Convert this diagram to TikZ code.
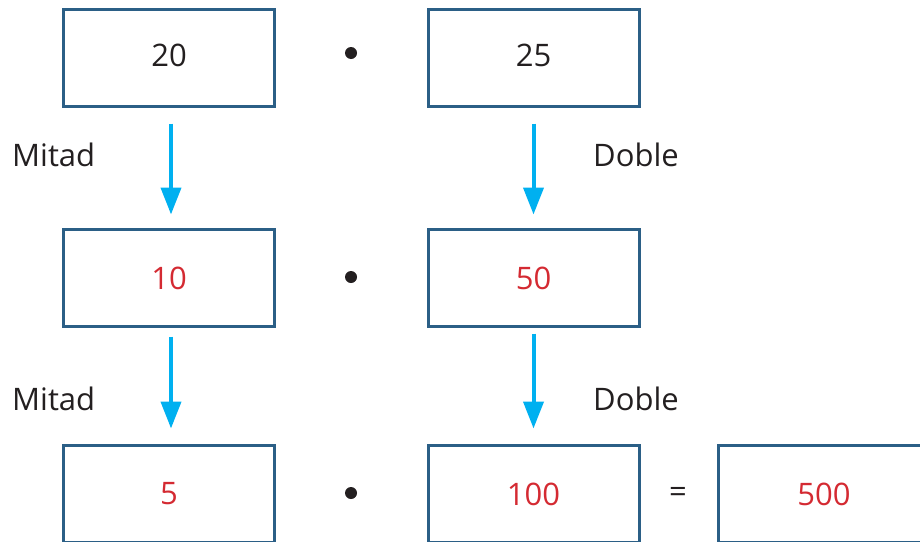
\documentclass[tikz,border=0pt]{standalone}
\usepackage{fontspec}
\setmainfont{Open Sans}
\usetikzlibrary{arrows.meta}
\definecolor{boxblue}{HTML}{2B5F86}
\definecolor{numred}{HTML}{D42A32}
\definecolor{arrcyan}{HTML}{00B0F0}
\definecolor{txt}{HTML}{231F20}
\begin{document}
\begin{tikzpicture}[x=1pt,y=-1pt,
  numbox/.style={draw=boxblue,line width=3pt,minimum width=211pt,minimum height=97pt,inner sep=0pt,font=\fontsize{31}{36}\selectfont,text=txt},
  rednum/.style={text=numred},
  lbl/.style={anchor=west,inner sep=0pt,font=\fontsize{31}{36}\selectfont,text=txt},
  dotmark/.style={circle,fill=txt,inner sep=0pt,minimum size=12pt},
  arr/.style={draw=arrcyan,line width=4pt,-{Triangle[width=20pt,length=27pt]}}]
\useasboundingbox (0,0) rectangle (920,541);
\clip (0,0) rectangle (920,541);
% row 1
\node[numbox] (a1) at (169,58) {\raisebox{5pt}{20}};
\node[dotmark] (d1) at (351,53) {};
\node[numbox] (b1) at (533.5,58) {\raisebox{5pt}{25}};
% row 2
\node[numbox,rednum] (a2) at (169,278) {10};
\node[dotmark] (d2) at (351,277) {};
\node[numbox,rednum] (b2) at (533.5,278) {50};
% row 3
\node[numbox,rednum] (a3) at (169,494) {5};
\node[dotmark] (d3) at (351,493) {};
\node[numbox,rednum] (b3) at (533.5,494) {100};
\node[font=\fontsize{31}{36}\selectfont,text=txt] (eq) at (678,495) {=};
\node[numbox,rednum] (c3) at (824,494) {500};
% arrows
\draw[arr,shorten <=15.5pt,shorten >=13.5pt] ([xshift=2pt]a1.south) -- ([xshift=2pt]a2.north);
\draw[arr,shorten <=15.5pt,shorten >=13.5pt] (b1.south) -- (b2.north);
\draw[arr,shorten <=8.5pt,shorten >=15.5pt] ([xshift=2pt]a2.south) -- ([xshift=2pt]a3.north);
\draw[arr,shorten <=5.5pt,shorten >=15.5pt] (b2.south) -- (b3.north);
% labels
\node[lbl] (m1) at (12,155) {Mitad};
\node[lbl] (m2) at (12,399) {Mitad};
\node[lbl] (o1) at (593,155) {Doble};
\node[lbl] (o2) at (593,399) {Doble};
\end{tikzpicture}
\end{document}
